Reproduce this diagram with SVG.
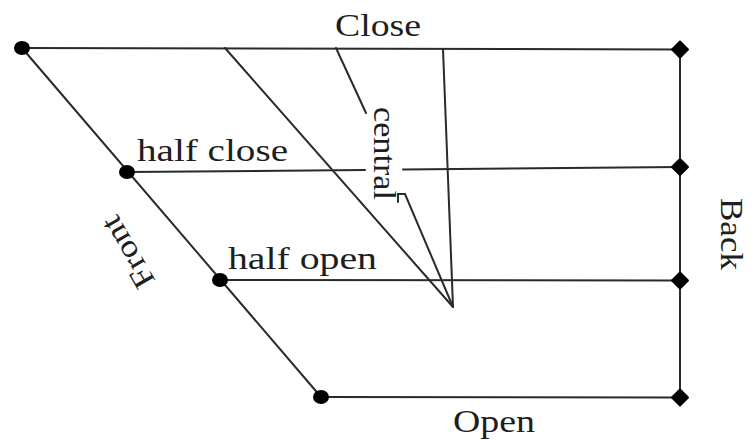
<svg xmlns="http://www.w3.org/2000/svg" width="754" height="440" viewBox="0 0 754 440">
<style>
.ln{stroke:#2a2a2a;stroke-width:2;fill:none;stroke-linecap:round}
.dot{fill:#000}
.lbl{font-family:"Liberation Serif","Times New Roman",serif;font-size:31px;fill:#1e1e1e}
</style>
<rect width="754" height="440" fill="#fff"/>
<g id="connectors">
<line class="ln" x1="22" y1="48" x2="680" y2="49.5"/>
<line class="ln" x1="127" y1="172" x2="365" y2="170"/>
<line class="ln" x1="403" y1="169.5" x2="680" y2="167"/>
<line class="ln" x1="220" y1="280" x2="680" y2="280.5"/>
<line class="ln" x1="321" y1="397" x2="680" y2="397.5"/>
<line class="ln" x1="680" y1="49.5" x2="680" y2="397.5"/>
<line class="ln" x1="22" y1="48" x2="321" y2="397"/>
<line class="ln" x1="225" y1="48" x2="453" y2="307"/>
<line class="ln" x1="443" y1="49" x2="453" y2="307"/>
<line class="ln" x1="336" y1="48" x2="366" y2="113"/>
<polyline class="ln" points="398,202 398,194 405,194 453,307"/>
</g>
<g id="node-close-front">
<ellipse class="dot" cx="22" cy="48" rx="8" ry="7"/>
</g>
<g id="node-halfclose-front">
<ellipse class="dot" cx="127" cy="172" rx="8" ry="7"/>
<text class="lbl" x="137" y="161" textLength="151" lengthAdjust="spacingAndGlyphs">half close</text>
</g>
<g id="node-halfopen-front">
<ellipse class="dot" cx="220" cy="280" rx="8" ry="7"/>
<text class="lbl" x="228" y="269" textLength="149" lengthAdjust="spacingAndGlyphs">half open</text>
</g>
<g id="node-open-front">
<ellipse class="dot" cx="321" cy="397" rx="8" ry="7"/>
</g>
<g id="node-close-back">
<polygon class="dot" points="680,41.5 688,49.5 680,57.5 672,49.5" stroke="#000" stroke-width="2" stroke-linejoin="round"/>
</g>
<g id="node-halfclose-back">
<polygon class="dot" points="680,159 688,167 680,175 672,167" stroke="#000" stroke-width="2" stroke-linejoin="round"/>
</g>
<g id="node-halfopen-back">
<polygon class="dot" points="680,272.5 688,280.5 680,288.5 672,280.5" stroke="#000" stroke-width="2" stroke-linejoin="round"/>
</g>
<g id="node-open-back">
<polygon class="dot" points="680,389.5 688,397.5 680,405.5 672,397.5" stroke="#000" stroke-width="2" stroke-linejoin="round"/>
</g>
<g id="labels">
<text class="lbl" x="335" y="36" textLength="86" lengthAdjust="spacingAndGlyphs">Close</text>
<text class="lbl" x="453" y="432" font-size="29" textLength="82" lengthAdjust="spacingAndGlyphs">Open</text>
<text class="lbl" transform="translate(374,107) rotate(90)" textLength="93" lengthAdjust="spacingAndGlyphs">central</text>
<text class="lbl" transform="translate(721,198) rotate(90)" textLength="72" lengthAdjust="spacingAndGlyphs">Back</text>
<text class="lbl" transform="translate(156,281) rotate(-120)" textLength="78" lengthAdjust="spacingAndGlyphs">Front</text>
</g>
</svg>
